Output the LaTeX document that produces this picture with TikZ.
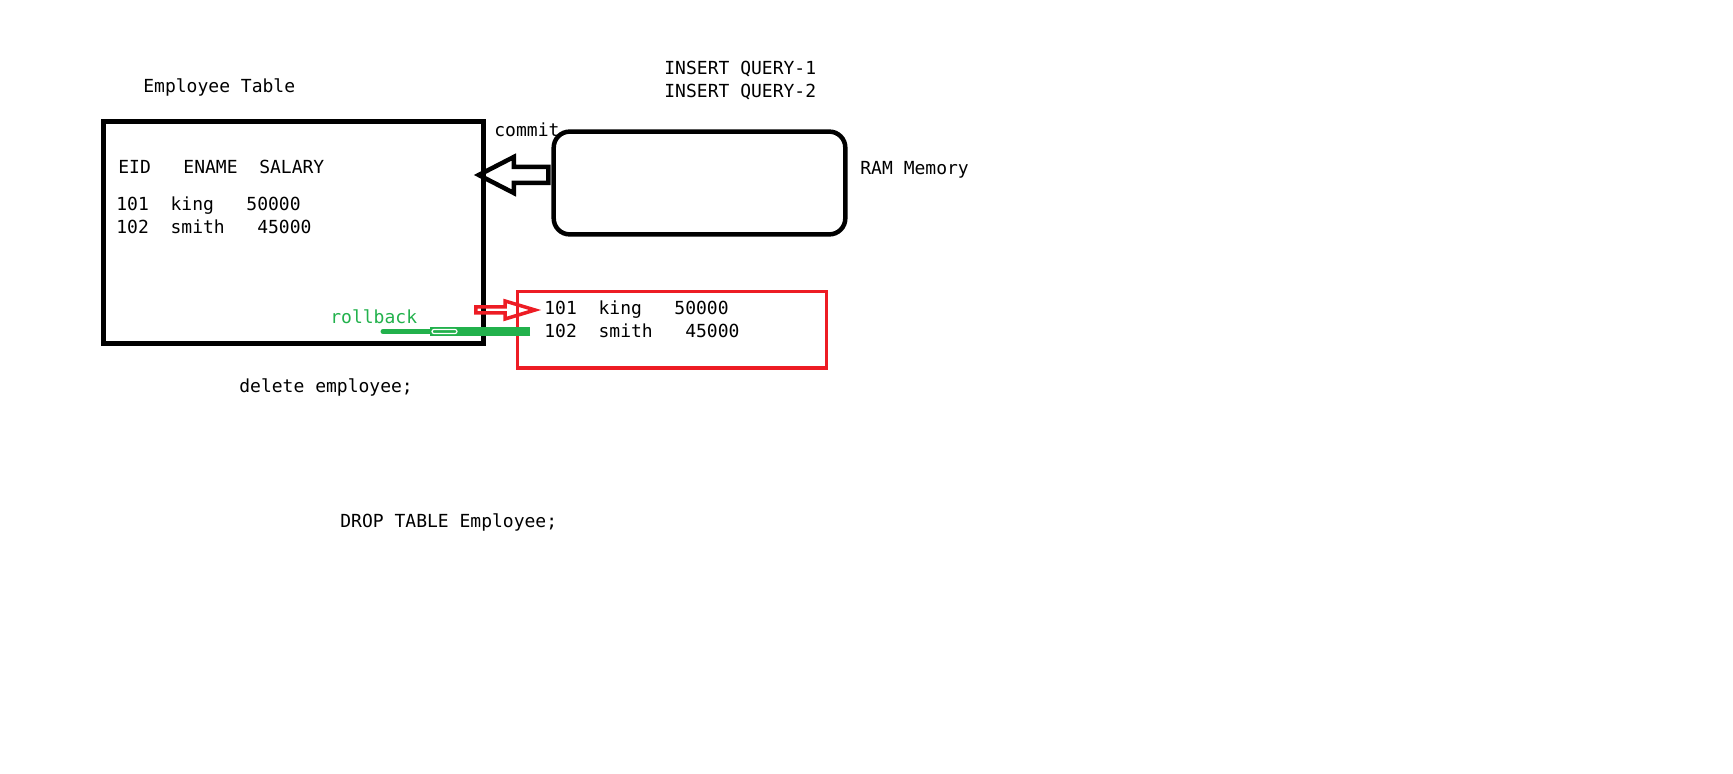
\documentclass[tikz,border=0pt]{standalone}
\usepackage{fontspec}
\setmonofont{DejaVu Sans Mono}
\usetikzlibrary{calc}
\definecolor{paintred}{HTML}{ED1C24}
\definecolor{paintgreen}{HTML}{22B14C}
\tikzset{
  codetext/.style={anchor=base west,inner sep=0pt,font=\ttfamily\fontsize{9}{11}\selectfont},
  tablebox/.style={draw,line width=2.25pt,inner sep=0pt},
  membox/.style={draw,line width=2.25pt,rounded corners=8pt,inner sep=0pt},
  undobox/.style={draw=paintred,line width=1.75pt,inner sep=0pt},
  blockarrow/.style={line width=2.25pt,line join=miter},
}
\begin{document}
\begin{tikzpicture}[x=0.5pt,y=-0.5pt]
  \useasboundingbox (0,0) rectangle (1733,774);
  % boxes
  \node[tablebox,minimum width=190pt,minimum height=111pt] (table) at (293.5,232.6) {};
  \node[membox,minimum width=145.8pt,minimum height=51.4pt] (ram) at (699.5,183) {};
  \node[undobox,minimum width=154.35pt,minimum height=38.45pt] (undo) at (672,329.8) {};
  % texts
  \node[codetext] (title) at (143,93) {Employee Table};
  \node[codetext] (head) at (118,174) {EID~~~ENAME~~SALARY};
  \node[codetext] (row1) at (116,211) {101~~king~~~50000};
  \node[codetext] (row2) at (116,234) {102~~smith~~~45000};
  \node[codetext] (query1) at (664,75) {INSERT QUERY-1};
  \node[codetext] (query2) at (664,98) {INSERT QUERY-2};
  \node[codetext] (commit) at (494,137) {commit};
  \node[codetext] (ramlabel) at (860,175) {RAM Memory};
  \node[codetext] (undo1) at (544,315) {101~~king~~~50000};
  \node[codetext] (undo2) at (544,338) {102~~smith~~~45000};
  \node[codetext,text=paintgreen] (rollback) at (330,324) {rollback};
  \node[codetext] (delete) at (239,393) {delete employee;};
  \node[codetext] (drop) at (340,527) {DROP TABLE Employee;};
  % commit arrow
  \coordinate (committip) at ($(table.east |- ram.west)+(-7,-8)$);
  \coordinate (committail) at ($(ram.west)+(-3,-8)$);
  \draw[blockarrow] (committip) -- ++(35,-18) -- ++(0,10) -- ($(committail)+(0,-8)$)
    -- ($(committail)+(0,8)$) -- ($(committip)+(35,8)$) -- ++(0,10) -- cycle;
  % insert arrow
  \coordinate (redotip) at ($(undo1.base west)+(-9,-5)$);
  \coordinate (redotail) at ($(table.east |- redotip)+(-10,0)$);
  \draw[paintred,line width=1.75pt,line join=miter] (redotip) -- ++(-30,-9) -- ++(0,6)
    -- ($(redotail)+(0,-3)$) -- ($(redotail)+(0,3)$) -- ($(redotip)+(-30,3)$) -- ++(0,6) -- cycle;
  % rollback arrow
  \coordinate (rollstart) at ($(undo2.base west)+(-14,-6.5)$);
  \coordinate (rollmid) at ($(rollstart)+(-100,0)$);
  \coordinate (rollend) at (383,331.5);
  \draw[paintgreen,line width=4.5pt] (rollstart) -- (rollmid);
  \draw[paintgreen,line width=2.5pt,line cap=round] (rollmid) -- (rollend);
  \draw[white,line width=0.6pt,rounded corners=1pt] ($(rollmid)+(2,-2)$) rectangle ($(rollmid)+(27,2)$);
\end{tikzpicture}
\end{document}
